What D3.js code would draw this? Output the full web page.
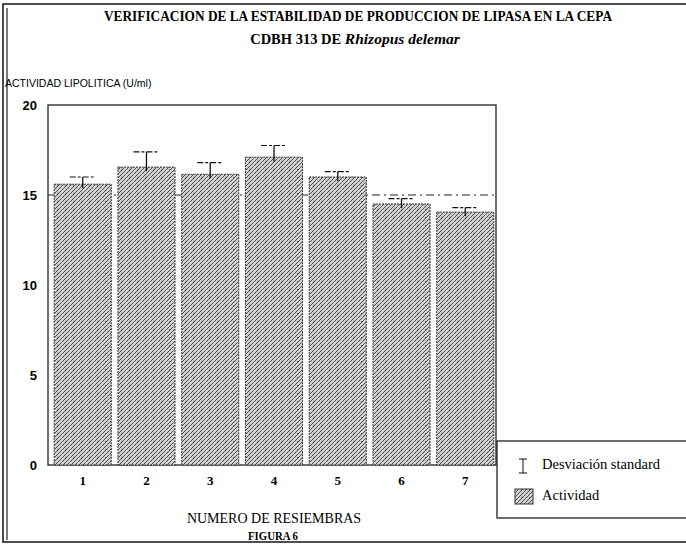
<!DOCTYPE html>
<html><head><meta charset="utf-8">
<script src="https://cdn.jsdelivr.net/npm/d3@7/dist/d3.min.js"></script>
<style>body{margin:0;background:#fff}svg{display:block}</style>
</head><body><svg id="c" width="686" height="545"></svg>
<script>
const categories = ["1","2","3","4","5","6","7"];
const actividad = [15.6, 16.55, 16.15, 17.1, 16.0, 14.5, 14.05];
const desviacion = [0.4, 0.85, 0.65, 0.65, 0.3, 0.3, 0.25];
const yTicks = [0, 5, 10, 15, 20];
const referencia = 15;

const svg = d3.select("#c");
const serif = "'Liberation Serif','Times New Roman',serif";
const sans = "'Liberation Sans',Arial,sans-serif";

// pattern
const defs = svg.append("defs");
const pat = defs.append("pattern").attr("id","hatch").attr("patternUnits","userSpaceOnUse")
  .attr("width",8).attr("height",8);
pat.append("rect").attr("width",8).attr("height",8).attr("fill","#d2d2d2");
pat.append("path").attr("d","M-1,1 l2,-2 M0,4 l4,-4 M0,8 l8,-8 M4,8 l4,-4 M7,9 l2,-2")
  .attr("stroke","#4a4a4a").attr("stroke-width",1);
pat.append("rect").attr("x",1).attr("y",1).attr("width",1).attr("height",1).attr("fill","#666");
pat.append("rect").attr("x",5).attr("y",6).attr("width",1).attr("height",1).attr("fill","#777");
pat.append("rect").attr("x",6).attr("y",2).attr("width",1).attr("height",1).attr("fill","#f2f2f2");

// page frame
svg.append("rect").attr("x",3).attr("y",4).attr("width",690).attr("height",538)
  .attr("fill","none").attr("stroke","#222").attr("stroke-width",1.6);
svg.append("line").attr("x1",7).attr("x2",7).attr("y1",8).attr("y2",540).attr("stroke","#222").attr("stroke-width",1.2);

// title
svg.append("text").attr("x",358).attr("y",21).attr("text-anchor","middle")
  .attr("font-family",serif).attr("font-weight","bold").attr("font-size",14.5)
  .attr("textLength",508).attr("lengthAdjust","spacingAndGlyphs")
  .text("VERIFICACION DE LA ESTABILIDAD DE PRODUCCION DE LIPASA EN LA CEPA");
const t2 = svg.append("text").attr("x",355).attr("y",44).attr("text-anchor","middle")
  .attr("font-family",serif).attr("font-weight","bold").attr("font-size",14.5);
t2.append("tspan").text("CDBH 313 DE  ");
t2.append("tspan").attr("font-style","italic").attr("font-size",15.5).text("Rhizopus delemar");

svg.append("text").attr("x",5).attr("y",87).attr("font-family",sans).attr("font-size",10.5)
  .text("ACTIVIDAD LIPOLITICA (U/ml)");

const x0 = 48, x1 = 496, y0 = 465, yTop = 105;
const x = d3.scaleBand().domain(categories).range([51, 497]).paddingInner(0.105).paddingOuter(0.05);
const y = d3.scaleLinear().domain([0,20]).range([y0, yTop]);

// plot frame
svg.append("rect").attr("x",x0).attr("y",yTop).attr("width",x1-x0).attr("height",y0-yTop)
  .attr("fill","none").attr("stroke","#222").attr("stroke-width",1.3);

// reference dashed line
svg.append("line").attr("x1",x0).attr("x2",x1).attr("y1",y(referencia)).attr("y2",y(referencia))
  .attr("stroke","#222").attr("stroke-width",1.2).attr("stroke-dasharray","8,4,2,4");

// bars
svg.selectAll("rect.bar").data(actividad).join("rect").attr("class","bar")
  .attr("x",(d,i)=>x(categories[i])).attr("width",x.bandwidth())
  .attr("y",d=>y(d)).attr("height",d=>y0-y(d))
  .attr("fill","url(#hatch)").attr("stroke","#333").attr("stroke-width",1).attr("stroke-dasharray","2,1");

// error bars
const eb = svg.selectAll("g.err").data(actividad).join("g").attr("class","err");
eb.append("line").attr("x1",(d,i)=>x(categories[i])+x.bandwidth()/2).attr("x2",(d,i)=>x(categories[i])+x.bandwidth()/2)
  .attr("y1",d=>y(d)+4).attr("y2",(d,i)=>y(d+desviacion[i])).attr("stroke","#111").attr("stroke-width",1.3);
eb.append("line").attr("x1",(d,i)=>x(categories[i])+x.bandwidth()/2-13).attr("x2",(d,i)=>x(categories[i])+x.bandwidth()/2+13)
  .attr("y1",(d,i)=>y(d+desviacion[i])).attr("y2",(d,i)=>y(d+desviacion[i]))
  .attr("stroke","#111").attr("stroke-width",1.2).attr("stroke-dasharray","6,2,3,2");

// y axis labels
svg.selectAll("text.yt").data(yTicks).join("text").attr("class","yt")
  .attr("x",37).attr("y",d=>y(d)+5).attr("text-anchor","end")
  .attr("font-family",sans).attr("font-weight","bold").attr("font-size",13).text(d=>d);

// x labels
svg.selectAll("text.xt").data(categories).join("text").attr("class","xt")
  .attr("x",d=>x(d)+x.bandwidth()/2).attr("y",485).attr("text-anchor","middle")
  .attr("font-family",serif).attr("font-weight","bold").attr("font-size",13).text(d=>d);

svg.append("text").attr("x",274).attr("y",523).attr("text-anchor","middle")
  .attr("font-family",serif).attr("font-size",14).text("NUMERO DE RESIEMBRAS");
svg.append("text").attr("x",273).attr("y",540).attr("text-anchor","middle")
  .attr("font-family",serif).attr("font-weight","bold").attr("font-size",12.5)
  .attr("textLength",50).attr("lengthAdjust","spacingAndGlyphs").text("FIGURA 6");

// legend
svg.append("rect").attr("x",497).attr("y",441).attr("width",200).attr("height",77)
  .attr("fill","#fff").attr("stroke","#222").attr("stroke-width",1.3);
const lx = 523;
svg.append("line").attr("x1",lx).attr("x2",lx).attr("y1",459).attr("y2",473).attr("stroke","#111");
svg.append("line").attr("x1",lx-4).attr("x2",lx+4).attr("y1",459).attr("y2",459).attr("stroke","#111");
svg.append("line").attr("x1",lx-4).attr("x2",lx+4).attr("y1",473).attr("y2",473).attr("stroke","#111");
svg.append("text").attr("x",542).attr("y",469).attr("font-family",serif).attr("font-size",14.5).text("Desviación standard");
svg.append("rect").attr("x",515).attr("y",489).attr("width",18).attr("height",15).attr("fill","url(#hatch)").attr("stroke","#333");
svg.append("text").attr("x",542).attr("y",500).attr("font-family",serif).attr("font-size",14.5).text("Actividad");
</script></body></html>
